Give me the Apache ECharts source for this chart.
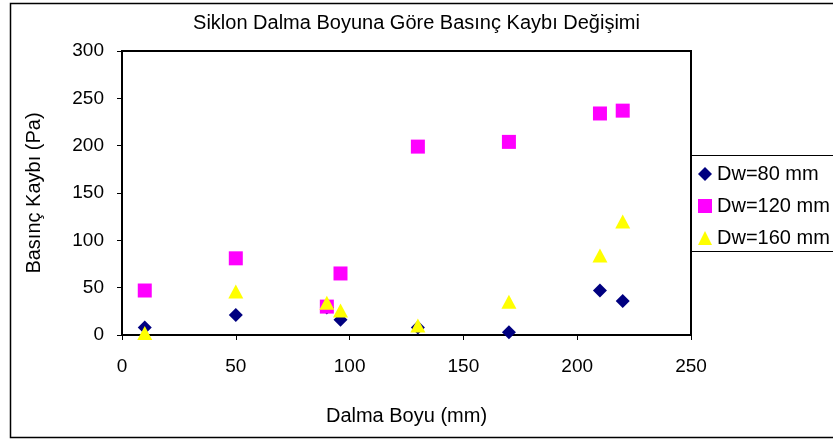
<!DOCTYPE html>
<html>
<head>
<meta charset="utf-8">
<script src="https://cdn.jsdelivr.net/npm/echarts@6/dist/echarts.min.js"></script>
<style>
  html, body { margin: 0; padding: 0; background: #fff; }
  #chart { width: 833px; height: 439px; }
</style>
</head>
<body>
<div id="chart"></div>
<script>
// Dalma boyu (mm) – x positions of the measurements
const dalmaBoyu80 = [10, 50, 90, 96, 130, 170, 210, 220];
const dalmaBoyu120 = [10, 50, 90, 96, 130, 170, 210, 220];
const dalmaBoyu160 = [10, 50, 90, 96, 130, 170, 210, 220];

// Basınç kaybı (Pa) for each cyclone diameter
const kayip80 = [8, 21, 29, 16, 8, 3, 47, 36];
const kayip120 = [47, 81, 30, 65, 199, 204, 234, 237];
const kayip160 = [2, 46, 34, 26, 10, 35, 84, 120];

const seriesNames = ['Dw=80 mm', 'Dw=120 mm', 'Dw=160 mm'];
const titleText = 'Siklon Dalma Boyuna Göre Basınç Kaybı Değişimi';
const xName = 'Dalma Boyu (mm)';
const yName = 'Basınç Kaybı (Pa)';

const pairs = (xs, ys) => xs.map((x, i) => [x, ys[i]]);

const font = 'Liberation Sans, Arial, sans-serif';
const chart = echarts.init(document.getElementById('chart'), null, { renderer: 'canvas' });

chart.setOption({
  backgroundColor: '#fff',
  animation: false,
  title: {
    text: titleText,
    left: 'center',
    top: 8,
    textStyle: { fontFamily: font, fontSize: 20, fontWeight: 'normal', color: '#000' }
  },
  grid: {
    left: 122, top: 51, right: 142, bottom: 104,
    show: true, borderColor: '#000', borderWidth: 2, backgroundColor: '#fff'
  },
  legend: {
    orient: 'vertical',
    left: 693,
    top: 159,
    itemWidth: 14,
    itemHeight: 14,
    itemGap: 12,
    textStyle: { fontFamily: font, fontSize: 20, color: '#000' },
    data: [
      { name: seriesNames[0], icon: 'diamond' },
      { name: seriesNames[1], icon: 'rect' },
      { name: seriesNames[2], icon: 'triangle' }
    ]
  },
  graphic: [
    {
      type: 'rect', z: -1,
      shape: { x: 10.5, y: 3.5, width: 900, height: 434 },
      style: { fill: 'none', stroke: '#000', lineWidth: 1.5 }
    },
    {
      type: 'rect', z: 5,
      shape: { x: 690.5, y: 155.5, width: 200, height: 96 },
      style: { fill: 'none', stroke: '#000', lineWidth: 1 }
    }
  ],
  xAxis: {
    type: 'value',
    min: 0, max: 250, interval: 50,
    name: xName,
    nameLocation: 'middle',
    nameGap: 71,
    nameTextStyle: { fontFamily: font, fontSize: 20, color: '#000' },
    axisLine: { show: true, lineStyle: { color: '#000', width: 2 } },
    axisTick: { show: true, inside: false, length: 5, lineStyle: { color: '#000', width: 1 } },
    axisLabel: { fontFamily: font, fontSize: 19, color: '#000', margin: 22 },
    splitLine: { show: false }
  },
  yAxis: {
    type: 'value',
    min: 0, max: 300, interval: 50,
    name: yName,
    nameLocation: 'middle',
    nameGap: 78,
    nameTextStyle: { fontFamily: font, fontSize: 20, color: '#000' },
    axisLine: { show: true, lineStyle: { color: '#000', width: 2 } },
    axisTick: { show: true, inside: false, length: 5, lineStyle: { color: '#000', width: 1 } },
    axisLabel: { fontFamily: font, fontSize: 19, color: '#000', margin: 18 },
    splitLine: { show: false }
  },
  series: [
    {
      name: seriesNames[0], type: 'scatter', symbol: 'diamond', symbolSize: [14, 14],
      itemStyle: { color: '#000080', opacity: 1 }, z: 2,
      data: pairs(dalmaBoyu80, kayip80)
    },
    {
      name: seriesNames[1], type: 'scatter', symbol: 'rect', symbolSize: [14, 14],
      itemStyle: { color: '#FF00FF', opacity: 1 }, z: 3,
      data: pairs(dalmaBoyu120, kayip120)
    },
    {
      name: seriesNames[2], type: 'scatter', symbol: 'triangle', symbolSize: [15, 14],
      itemStyle: { color: '#FFFF00', opacity: 1 }, z: 4,
      data: pairs(dalmaBoyu160, kayip160)
    }
  ]
});
</script>
</body>
</html>
